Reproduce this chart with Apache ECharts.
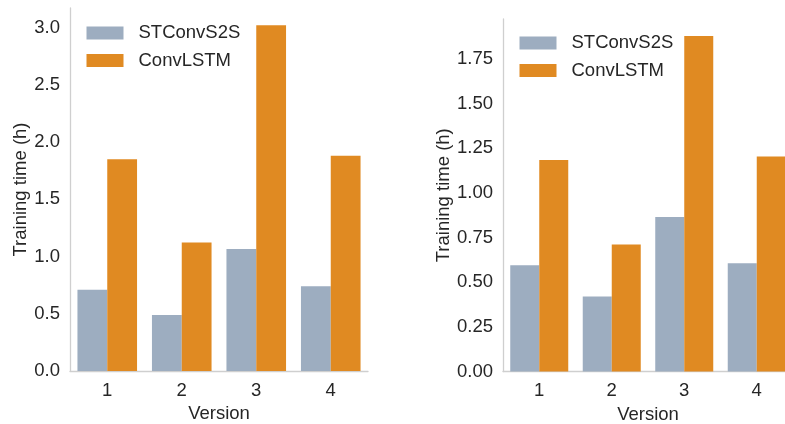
<!DOCTYPE html>
<html>
<head>
<meta charset="utf-8">
<script src="https://cdn.jsdelivr.net/npm/echarts@6/dist/echarts.min.js"></script>
<style>html,body{margin:0;padding:0;background:#fff}#c{width:785px;height:424px}</style>
</head>
<body>
<div id="c"></div>
<script>
var versions = ['1', '2', '3', '4'];
var seriesNames = ['STConvS2S', 'ConvLSTM'];
var leftSTConv = [0.71, 0.49, 1.065, 0.74];
var leftConvLSTM = [1.85, 1.123, 3.02, 1.88];
var rightSTConv = [0.595, 0.42, 0.865, 0.607];
var rightConvLSTM = [1.185, 0.712, 1.88, 1.205];

var FONT = '"Liberation Sans", Arial, sans-serif';
var FS = 18.5;
var TXT = '#262626';
var AX = '#cfcfcf';
var BLUE = '#9dadc0';
var ORANGE = '#e08a22';

function xAx(gi) {
  return {
    type: 'category', gridIndex: gi, data: versions,
    name: 'Version', nameLocation: 'middle', nameGap: 32,
    nameTextStyle: {fontFamily: FONT, fontSize: FS, color: TXT},
    axisLine: {lineStyle: {color: AX, width: 1.3}},
    axisTick: {show: false},
    axisLabel: {fontFamily: FONT, fontSize: FS, color: TXT, margin: 10},
    splitLine: {show: false}
  };
}
function yAx(gi, max, interval, dec, gap) {
  return {
    type: 'value', gridIndex: gi, min: 0, max: max, interval: interval,
    name: 'Training time (h)', nameLocation: 'middle', nameGap: gap,
    nameTextStyle: {fontFamily: FONT, fontSize: FS, color: TXT},
    axisLine: {show: true, lineStyle: {color: AX, width: 1.3}},
    axisTick: {show: false},
    axisLabel: {fontFamily: FONT, fontSize: FS, color: TXT, margin: 10, showMaxLabel: false,
      formatter: function (v) { return v.toFixed(dec); }},
    splitLine: {show: false}
  };
}
function bar(name, data, idx, color) {
  return {
    type: 'bar', name: name, data: data, xAxisIndex: idx, yAxisIndex: idx,
    barWidth: '40%', barGap: '0%', itemStyle: {color: color},
    emphasis: {disabled: true}, animation: false
  };
}
function leg(left, top) {
  return {
    data: seriesNames, orient: 'vertical', left: left, top: top, padding: 0,
    itemWidth: 37, itemHeight: 13, itemGap: 8.5, icon: 'rect',
    textStyle: {fontFamily: FONT, fontSize: FS, color: TXT, lineHeight: 18, padding: [0, 0, 0, 10]}
  };
}

var chart = echarts.init(document.getElementById('c'), null, {renderer: 'canvas'});
chart.setOption({
  animation: false,
  color: [BLUE, ORANGE],
  legend: [leg(86.5, 23.5), leg(519.5, 33.5)],
  grid: [
    {left: 70, top: 8, width: 298, height: 363, outerBoundsMode: 'none', containLabel: false},
    {left: 503, top: 19, width: 290, height: 352.5, outerBoundsMode: 'none', containLabel: false}
  ],
  xAxis: [xAx(0), xAx(1)],
  yAxis: [yAx(0, 3.17, 0.5, 1, 40), yAx(1, 1.975, 0.25, 2, 49)],
  series: [
    bar(seriesNames[0], leftSTConv, 0, BLUE),
    bar(seriesNames[1], leftConvLSTM, 0, ORANGE),
    bar(seriesNames[0], rightSTConv, 1, BLUE),
    bar(seriesNames[1], rightConvLSTM, 1, ORANGE)
  ]
});
</script>
</body>
</html>
